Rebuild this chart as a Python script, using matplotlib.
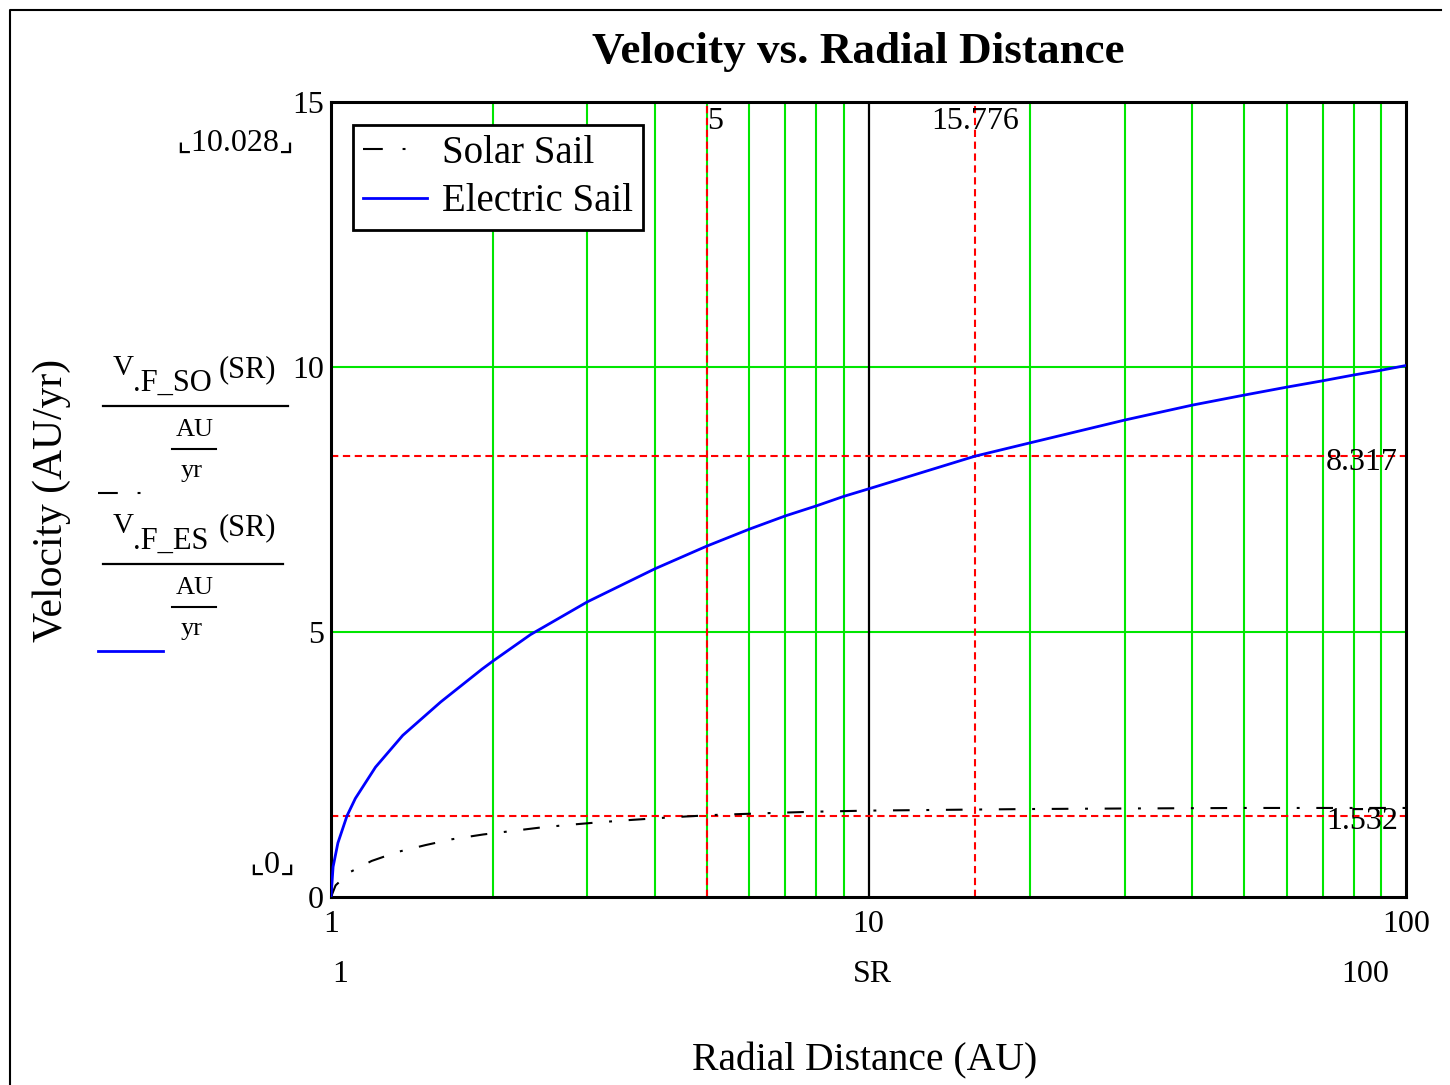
import matplotlib
matplotlib.use("Agg")
import matplotlib.pyplot as plt
import matplotlib.transforms as mtransforms
from matplotlib.lines import Line2D

plt.rcParams["font.family"] = ["Liberation Serif", "DejaVu Serif", "DejaVu Sans"]

# values: radial distance (AU) and velocity (AU/yr)
sr_es = [1.0, 1.009, 1.03, 1.071, 1.11, 1.21, 1.36, 1.6, 1.91, 2.0, 2.35, 3.0, 4.0, 5.0,
         6.0, 7.0, 8.0, 9.0, 10.0, 15.776, 20.0, 30.0, 40.0, 50.0, 60.0, 70.0, 80.0, 90.0, 100.0]
v_es = [0.0, 0.57, 1.02, 1.532, 1.86, 2.45, 3.05, 3.68, 4.30, 4.45, 4.95, 5.57, 6.19, 6.62,
        6.94, 7.19, 7.38, 7.56, 7.70, 8.317, 8.57, 9.00, 9.28, 9.47, 9.62, 9.74, 9.85, 9.94, 10.028]

sr_ss = [1.0, 1.02, 1.085, 1.19, 1.33, 1.50, 1.68, 1.92, 2.15, 2.45, 2.76, 3.16, 3.57, 4.09,
         4.59, 5.23, 6.84, 8.0, 10.0, 15.776, 20.0, 30.0, 50.0, 70.0, 100.0]
v_ss = [0.0, 0.22, 0.47, 0.68, 0.85, 0.98, 1.09, 1.18, 1.24, 1.31, 1.36, 1.41, 1.45, 1.49,
        1.52, 1.55, 1.59, 1.61, 1.63, 1.65, 1.66, 1.67, 1.68, 1.68, 1.68]

green_x = [2, 3, 4, 5, 6, 7, 8, 9, 20, 30, 40, 50, 60, 70, 80, 90]
green_y = [5, 10]
marker_x = [5, 15.776]
marker_x_labels = ["5", "15.776"]
marker_y = [8.317, 1.532]
marker_y_labels = ["8.317", "1.532"]
x_ticks = [1, 10, 100]
y_ticks = [0, 5, 10, 15]

W, H = 1450, 1085


def fx(x):
    return x / W


def fy(y):
    return 1 - y / H


ss_style = (0, (8, 8, 1.4, 8))
ss_handle = (0, (9.5, 9.5, 1.4, 30))
red_style = (0, (3.5, 2.2))

fig = plt.figure(figsize=(14.5, 10.85), dpi=100)
ax = fig.add_axes([fx(331), fy(897), (1406 - 331) / W, (897 - 102) / H])
ax.set_xscale("log")
ax.set_xlim(1, 100)
ax.set_ylim(0, 15)

for x in green_x:
    ax.axvline(x, color="#00e600", lw=1.5, zorder=1)
for y in green_y:
    ax.axhline(y, color="#00e600", lw=1.5, zorder=1)
ax.axvline(10, color="black", lw=1.6, zorder=1)

for x in marker_x:
    ax.axvline(x, color="red", lw=1.5, linestyle=red_style, zorder=2)
for y in marker_y:
    ax.axhline(y, color="red", lw=1.5, linestyle=red_style, zorder=2)

ax.plot(sr_ss, v_ss, color="black", lw=1.5, linestyle=ss_style, zorder=3)
ax.plot(sr_es, v_es, color="blue", lw=2.0, zorder=4)

ax.set_xticks(x_ticks)
ax.set_xticklabels([str(t) for t in x_ticks])
ax.set_xticks([], minor=True)
ax.set_yticks(y_ticks)
ax.set_yticklabels([str(t) for t in y_ticks])
ax.tick_params(axis="both", length=0, labelsize=23)
ax.tick_params(axis="x", pad=9)
ax.tick_params(axis="y", pad=5)
for s in ax.spines.values():
    s.set_linewidth(2.2)

# marker readouts
trans_x = mtransforms.blended_transform_factory(ax.transData, ax.transAxes)
for x, lab in zip(marker_x, marker_x_labels):
    ha = "left" if lab == "5" else "center"
    ax.text(x, 0.975, lab, transform=trans_x, ha=ha, va="center", fontsize=23, zorder=5)
for y, lab in zip(marker_y, marker_y_labels):
    ax.annotate(lab, xy=(1, y), xycoords=("axes fraction", "data"), xytext=(-8, -6),
                textcoords="offset pixels", ha="right", va="center", fontsize=23, zorder=5)

handles = [Line2D([], [], color="black", lw=1.5, linestyle=ss_handle),
           Line2D([], [], color="blue", lw=2.0)]
leg = ax.legend(handles, ["Solar Sail", "Electric Sail"], loc="upper left",
                bbox_to_anchor=((353 - 331) / 1075, (897 - 125) / 795), fontsize=28,
                fancybox=False, edgecolor="black", framealpha=1, handlelength=1.65,
                handletextpad=0.4, borderpad=0.25, labelspacing=0.3, borderaxespad=0)
leg.get_frame().set_linewidth(2)

# title and axis labels
fig.text(fx(858), fy(52), "Velocity vs. Radial Distance", ha="center", va="center",
         fontsize=32.5, fontweight="bold")
fig.text(fx(865), fy(1061), "Radial Distance (AU)", ha="center", va="center", fontsize=28.5)
fig.text(fx(340), fy(975), "1", ha="center", va="center", fontsize=23)
fig.text(fx(872), fy(975), "SR", ha="center", va="center", fontsize=23)
fig.text(fx(1365), fy(975), "100", ha="center", va="center", fontsize=23)
fig.text(fx(52), fy(500), "Velocity (AU/yr)", ha="center", va="center", rotation=90,
         fontsize=30)

# Mathcad axis limit placeholders
fig.text(fx(235), fy(143), "⌞10.028⌟", ha="center", va="center", fontsize=23)
fig.text(fx(272), fy(865), "⌞0⌟", ha="center", va="center", fontsize=23)


def hline(x1, x2, y, **kw):
    fig.add_artist(Line2D([fx(x1), fx(x2)], [fy(y), fy(y)], transform=fig.transFigure, **kw))


# y-axis expressions
for top, sub in [(368, ".F_SO"), (526, ".F_ES")]:
    fig.text(fx(113), fy(top), "V", ha="left", va="center", fontsize=21)
    fig.text(fx(133), fy(top + 15), sub, ha="left", va="center", fontsize=22)
    fig.text(fx(276), fy(top + 2), "(SR)", ha="right", va="center", fontsize=22)
    hline(103, 288 if sub == ".F_SO" else 283, top + 38, color="black", lw=1.6)
    fig.text(fx(195), fy(top + 62), "AU", ha="center", va="center", fontsize=19)
    hline(172, 216, top + 81, color="black", lw=1.5)
    fig.text(fx(192), fy(top + 103), "yr", ha="center", va="center", fontsize=19)

hline(98, 148, 493, color="black", lw=1.5, linestyle=ss_handle)
hline(98, 163, 651, color="blue", lw=2.0)

# outer frame
fig.add_artist(Line2D([fx(10), fx(10), fx(1441)], [fy(1090), fy(10), fy(10)],
                      transform=fig.transFigure, color="black", lw=1.5))

fig.savefig("out.png", dpi=100)
